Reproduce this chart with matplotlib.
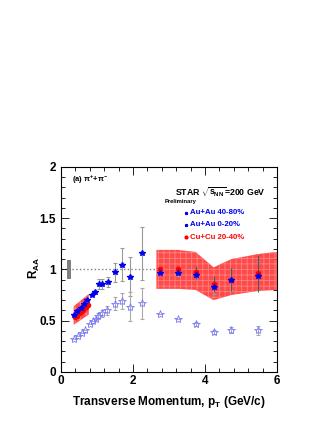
import numpy as np
import matplotlib
matplotlib.use("Agg")
import matplotlib.pyplot as plt
from matplotlib.ticker import MultipleLocator

plt.rcParams['font.family'] = ['Liberation Sans', 'DejaVu Sans']
plt.rcParams['font.weight'] = 'bold'
plt.rcParams['mathtext.fontset'] = 'custom'
plt.rcParams['mathtext.rm'] = 'Liberation Sans:bold'
plt.rcParams['mathtext.it'] = 'Liberation Sans:bold'
plt.rcParams['mathtext.bf'] = 'Liberation Sans:bold'
plt.rcParams['hatch.linewidth'] = 0.6

# Au+Au 40-80% (filled stars)
pt_peri = [0.36, 0.45, 0.55, 0.65, 0.71, 0.85, 0.94, 1.06, 1.15, 1.31, 1.50, 1.70, 1.91, 2.25,
           2.74, 3.25, 3.74, 4.24, 4.73, 5.48]
raa_peri = [0.56, 0.59, 0.62, 0.66, 0.70, 0.75, 0.78, 0.855, 0.855, 0.88, 0.97, 1.045, 0.93, 1.155,
            0.965, 0.965, 0.95, 0.83, 0.90, 0.94]
err_peri = [0.0, 0.0, 0.0, 0.0, 0.0, 0.0, 0.0, 0.05, 0.05, 0.05, 0.09, 0.16, 0.19, 0.26,
            0.0, 0.03, 0.05, 0.07, 0.10, 0.14]

# Au+Au 0-20% (open stars)
pt_cent = [0.36, 0.48, 0.57, 0.66, 0.80, 0.89, 0.96, 1.03, 1.13, 1.29, 1.50, 1.70, 1.91, 2.25,
           2.74, 3.25, 3.74, 4.24, 4.73, 5.48]
raa_cent = [0.317, 0.35, 0.375, 0.41, 0.47, 0.50, 0.52, 0.55, 0.57, 0.60, 0.665, 0.69, 0.635, 0.67,
            0.565, 0.52, 0.47, 0.39, 0.41, 0.405]
err_cent = [0.0, 0.0, 0.0, 0.0, 0.0, 0.0, 0.0, 0.02, 0.03, 0.04, 0.065, 0.08, 0.14, 0.15,
            0.0, 0.0, 0.02, 0.02, 0.03, 0.045]

# Cu+Cu 20-40% (filled circles)
pt_cu = [0.40, 0.45, 0.50, 0.55, 0.60, 0.65, 0.70, 0.75, 2.74, 3.25, 3.74, 4.24, 4.73, 5.48]
raa_cu = [0.54, 0.55, 0.57, 0.58, 0.60, 0.62, 0.63, 0.65, 1.005, 1.00, 0.97, 0.86, 0.90, 0.96]
err_cu = [0, 0, 0, 0, 0, 0, 0, 0, 0.0, 0.03, 0.06, 0.08, 0.11, 0.18]

# Cu+Cu systematic bands
band_lo_pt = [0.35, 0.77]
band_lo_up = [0.64, 0.76]
band_lo_dn = [0.46, 0.56]
band_hi_pt = [2.65, 3.25, 3.74, 4.24, 4.73, 5.48, 6.0]
band_hi_up = [1.19, 1.19, 1.17, 1.02, 1.10, 1.15, 1.17]
band_hi_dn = [0.81, 0.81, 0.80, 0.70, 0.75, 0.79, 0.80]

fig = plt.figure(figsize=(3.32, 4.30), dpi=100)
ax = fig.add_axes([0.184, 0.135, 0.650, 0.477])

ax.axhline(1.0, color='grey', ls=':', lw=1.0, zorder=1)
ax.fill_between([0.16, 0.27], 0.91, 1.09, color='#808080', lw=0, zorder=2)

for pts, up, dn in [(band_lo_pt, band_lo_up, band_lo_dn), (band_hi_pt, band_hi_up, band_hi_dn)]:
    ax.fill_between(pts, dn, up, facecolor='#ff2a2a', edgecolor='#ff8c8c', hatch='+++',
                    lw=0, alpha=0.85, zorder=3)

ax.errorbar(pt_peri, raa_peri, yerr=err_peri, fmt='none', ecolor='#999999', elinewidth=0.8,
            capsize=1.5, capthick=0.8, zorder=4)
ax.errorbar(pt_cent, raa_cent, yerr=err_cent, fmt='none', ecolor='#aaaaaa', elinewidth=0.8,
            capsize=1.5, capthick=0.8, zorder=4)
ax.errorbar(pt_cu, raa_cu, yerr=err_cu, fmt='none', ecolor='#555555', elinewidth=0.8,
            ls=':', zorder=4)

ax.plot(pt_cu, raa_cu, 'o', color='#ff0000', ms=3.0, mec='#ff0000', zorder=5)
ax.plot(pt_peri, raa_peri, '*', color='#0000ee', ms=4.2, mec='#0000ee', zorder=6)
ax.plot(pt_cent, raa_cent, '*', mfc='none', mec='#7777ff', ms=6, mew=0.6, zorder=6)

ax.set_xlim(0, 6)
ax.set_ylim(0, 2)
ax.set_xticks([0, 2, 4, 6])
ax.set_xticklabels(['0', '2', '4', '6'])
ax.set_yticks([0, 0.5, 1, 1.5, 2])
ax.set_yticklabels(['0', '0.5', '1', '1.5', '2'])
ax.xaxis.set_minor_locator(MultipleLocator(0.4))
ax.yaxis.set_minor_locator(MultipleLocator(0.1))
ax.tick_params(which='both', direction='in', top=True, right=True, labelsize=8.5, width=0.6)
ax.tick_params(which='major', length=6)
ax.tick_params(which='minor', length=3)
ax.tick_params(axis='x', pad=2)
for sp in ax.spines.values():
    sp.set_linewidth(0.8)

ax.text(0.3, 1.87, r'(a) $\pi^{+}$+$\pi^{-}$', fontsize=5.5, va='center')
ax.text(3.16, 1.75, r'STAR $\sqrt{s_{NN}}$=200 GeV', fontsize=6.3, va='center')
ax.text(3.32, 1.66, 'Preliminary', fontsize=4.2, va='center', ha='center')

leg_y = [1.55, 1.434, 1.314]
leg_txt = ['Au+Au 40-80%', 'Au+Au 0-20%', 'Cu+Cu 20-40%']
leg_col = ['#0000ee', '#0000ee', '#ff0000']
leg_mk = ['*', '*', 'o']
for y, t, c, m in zip(leg_y, leg_txt, leg_col, leg_mk):
    ax.plot([3.46], [y], m, color=c, ms=2.0)
    ax.text(3.59, y, t, color=c, fontsize=5.6, va='center')

fig.text(0.105, (430 - 268) / 430, r'R$_{\mathregular{AA}}$', rotation=90, fontsize=8.5,
         ha='center', va='center')
fig.text(169 / 332, 1 - 402 / 430, r'Transverse Momentum, p$_{T}$ (GeV/c)', fontsize=8.5,
         ha='center', va='center')

fig.savefig('out.png', dpi=100)
